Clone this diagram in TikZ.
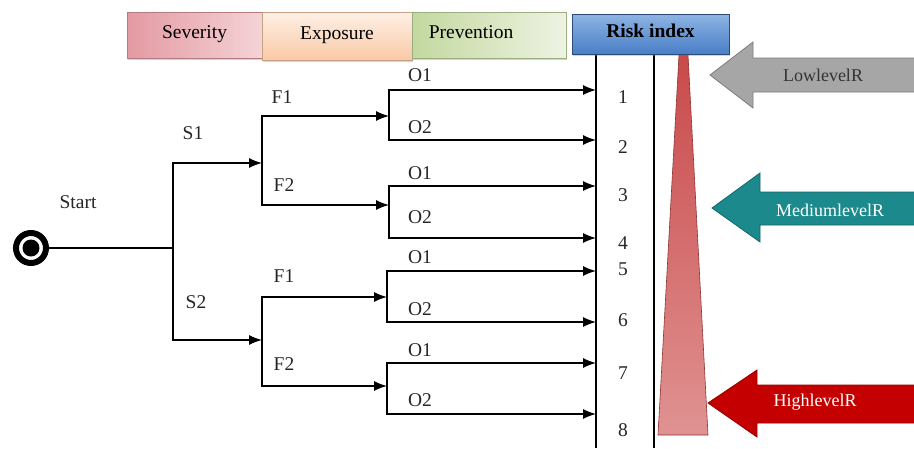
\documentclass[tikz,border=0pt]{standalone}
\usepackage{fontspec}
\setmainfont{Liberation Serif}
\usetikzlibrary{arrows.meta, shadows}

\definecolor{sevL}{HTML}{E39AA2}
\definecolor{sevR}{HTML}{F4D3D6}
\definecolor{expT}{HTML}{FEF0E6}
\definecolor{expB}{HTML}{F9C9A5}
\definecolor{preL}{HTML}{C3D8A0}
\definecolor{preR}{HTML}{EEF3E2}
\definecolor{riskT}{HTML}{8DB4E3}
\definecolor{riskB}{HTML}{4A7EC8}
\definecolor{triT}{HTML}{C94A4A}
\definecolor{triB}{HTML}{E09292}
\definecolor{lowC}{HTML}{A6A6A6}
\definecolor{medC}{HTML}{1C8A8C}
\definecolor{highC}{HTML}{C40000}

\begin{document}
\begin{tikzpicture}[x=1pt, y=-1pt, line width=1.3pt,
    font=\fontsize{19.5}{22}\selectfont,
    >={Latex[length=13pt, width=10pt]},
    hdr/.style={draw=#1, line width=0.6pt, inner sep=0pt,
      text depth=1.4ex, drop shadow={shadow xshift=1pt, shadow yshift=-2pt, opacity=0.35}},
    lbl/.style={inner sep=1pt, text=black!85},
    levelarrow/.style={draw=#1!75!black, fill=#1, line width=0.8pt},
    levellbl/.style={font=\fontsize{18}{20}\selectfont, inner sep=1pt}]
  \useasboundingbox (0,0) rectangle (914,448);

  % risk scale
  \draw (596,54) -- (596,448);
  \draw (654,54) -- (654,448);
  \shade[top color=triT, bottom color=triB, draw=triT!70!black, line width=0.6pt]
    (679,55) -- (688,55) -- (708,435) -- (658,435) -- cycle;

  % header
  \node[hdr=sevL!80!black, left color=sevL, right color=sevR,
    minimum width=135, minimum height=46] (sev) at (194.5,35) {Severity};
  \node[hdr=expB!80!black, top color=expT, bottom color=expB,
    minimum width=150, minimum height=48] (exp) at (337,36) {Exposure};
  \node[hdr=preL!80!black, left color=preL, right color=preR,
    minimum width=154, minimum height=46] (pre) at (489,35) {\hspace*{-36pt}Prevention};
  \node[hdr=riskB!60!black, top color=riskT, bottom color=riskB,
    minimum width=157, minimum height=40, font=\fontsize{19.5}{22}\bfseries] (risk) at (650.5,34) {Risk index};

  % start
  \node[circle, draw=black, line width=6pt, minimum size=30pt, inner sep=0pt, fill=white,
    path picture={\fill[black] (path picture bounding box.center) circle (8.5pt);}] (start) at (31,248) {};
  \node[lbl] (lstart) at (78,202) {Start};

  % junctions
  \coordinate (s) at (173,248);
  \coordinate (fa) at (262,163);
  \coordinate (fb) at (262,340);
  \coordinate (oa) at (389,116);
  \coordinate (ob) at (389,205);
  \coordinate (oc) at (387,297);
  \coordinate (od) at (387,386);
  \coordinate (r1) at (596,90);
  \coordinate (r2) at (596,140);
  \coordinate (r3) at (596,186);
  \coordinate (r4) at (596,238);
  \coordinate (r5) at (596,271);
  \coordinate (r6) at (596,322);
  \coordinate (r7) at (596,363);
  \coordinate (r8) at (596,414);

  \draw (start) -- (s);
  \draw[->] (s) |- (fa);
  \draw[->] (s) |- (fb);
  \draw[->] (fa) |- (oa);
  \draw[->] (fa) |- (ob);
  \draw[->] (fb) |- (oc);
  \draw[->] (fb) |- (od);
  \draw[->] (oa) |- (r1);
  \draw[->] (oa) |- (r2);
  \draw[->] (ob) |- (r3);
  \draw[->] (ob) |- (r4);
  \draw[->] (oc) |- (r5);
  \draw[->] (oc) |- (r6);
  \draw[->] (od) |- (r7);
  \draw[->] (od) |- (r8);

  % branch labels
  \node[lbl] (ls1) at (193,133) {S1};
  \node[lbl] (ls2) at (196,302) {S2};
  \node[lbl] (lf1a) at (282,97) {F1};
  \node[lbl] (lf2a) at (284,185) {F2};
  \node[lbl] (lf1b) at (284,276) {F1};
  \node[lbl] (lf2b) at (284,364) {F2};
  \node[lbl] (lo1a) at (420,75) {O1};
  \node[lbl] (lo2a) at (420,127) {O2};
  \node[lbl] (lo1b) at (420,173) {O1};
  \node[lbl] (lo2b) at (420,217) {O2};
  \node[lbl] (lo1c) at (420,257) {O1};
  \node[lbl] (lo2c) at (420,309) {O2};
  \node[lbl] (lo1d) at (420,350) {O1};
  \node[lbl] (lo2d) at (420,400) {O2};

  % risk numbers
  \node[lbl] (n1) at (623,97) {1};
  \node[lbl] (n2) at (623,147) {2};
  \node[lbl] (n3) at (623,195) {3};
  \node[lbl] (n4) at (623,243) {4};
  \node[lbl] (n5) at (623,269) {5};
  \node[lbl] (n6) at (623,320) {6};
  \node[lbl] (n7) at (623,373) {7};
  \node[lbl] (n8) at (623,430) {8};

  % level arrows
  \draw[levelarrow=lowC] (710,75) -- (753,42) -- (753,58) -- (916,58)
    -- (916,92) -- (753,92) -- (753,108) -- cycle;
  \node[levellbl, text=black!80] (low) at (823,75) {LowlevelR};
  \draw[levelarrow=medC] (712,208) -- (760,173) -- (760,192) -- (916,192)
    -- (916,225) -- (760,225) -- (760,242) -- cycle;
  \node[levellbl, text=white] (med) at (830,210) {MediumlevelR};
  \draw[levelarrow=highC] (708,403) -- (757,370) -- (757,385) -- (916,385)
    -- (916,423) -- (757,423) -- (757,437) -- cycle;
  \node[levellbl, text=white] (high) at (815,402) {HighlevelR};
\end{tikzpicture}
\end{document}
